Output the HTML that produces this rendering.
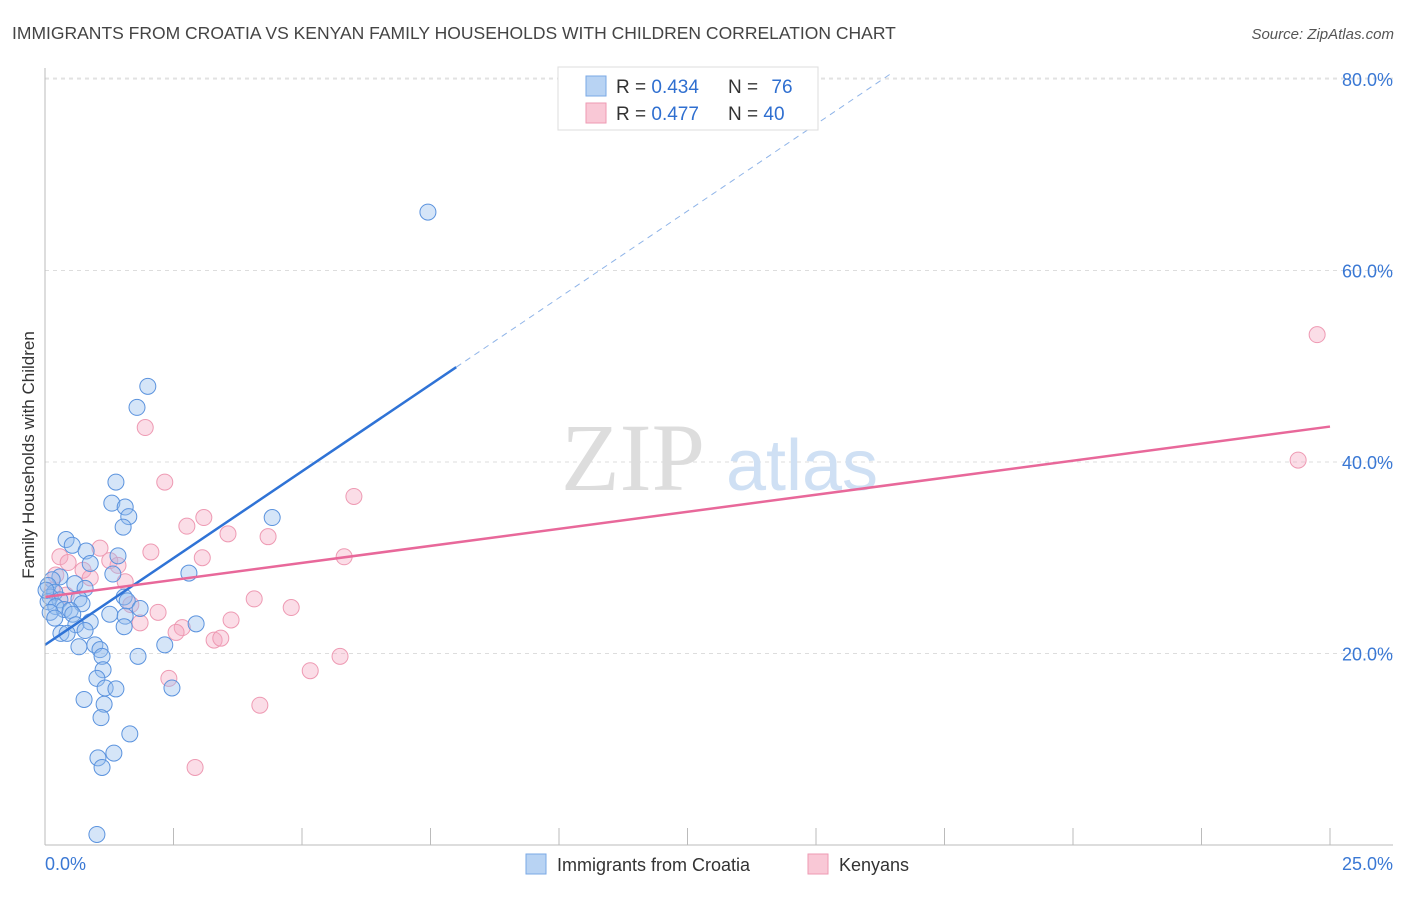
<!DOCTYPE html>
<html><head><meta charset="utf-8"><style>
body{margin:0;background:#fff;font-family:"Liberation Sans",sans-serif}
svg text{font-family:"Liberation Sans",sans-serif}
</style></head><body>
<svg id="chart" width="1406" height="892" xmlns="http://www.w3.org/2000/svg">
<text x="12" y="39" font-size="17.5" fill="#444">IMMIGRANTS FROM CROATIA VS KENYAN FAMILY HOUSEHOLDS WITH CHILDREN CORRELATION CHART</text>
<text x="1394" y="39" font-size="15" fill="#555" font-style="italic" text-anchor="end">Source: ZipAtlas.com</text>
<g id="grid"></g>
<g>
<text x="633" y="490" font-size="96" fill="#ddd" font-family="Liberation Serif" text-anchor="middle" style="font-family:'Liberation Serif',serif">ZIP</text>
<text x="802" y="490" font-size="72" fill="#cfe0f4" text-anchor="middle">atlas</text>
</g>
<g id="points"></g>
<g id="lines"></g>
<g id="axes"></g>
<text transform="translate(34,455) rotate(-90)" font-size="17" fill="#333" text-anchor="middle">Family Households with Children</text>
<g>
<rect x="558" y="67" width="260" height="63" fill="#fff" stroke="#ddd"/>
<rect x="586" y="76" width="20" height="20" fill="#b8d3f3" stroke="#7aa8e6"/>
<rect x="586" y="103" width="20" height="20" fill="#f9c8d6" stroke="#ee9ab3"/>
<text x="616" y="93" font-size="19" fill="#333">R = <tspan fill="#2f6fd0">0.434</tspan></text>
<text x="728" y="93" font-size="19" fill="#333">N = <tspan fill="#2f6fd0" dx="8">76</tspan></text>
<text x="616" y="120" font-size="19" fill="#333">R = <tspan fill="#2f6fd0">0.477</tspan></text>
<text x="728" y="120" font-size="19" fill="#333">N = <tspan fill="#2f6fd0">40</tspan></text>
</g>
<g>
<rect x="526" y="854" width="20" height="20" fill="#b8d3f3" stroke="#7aa8e6"/>
<text x="557" y="871" font-size="18" fill="#333">Immigrants from Croatia</text>
<rect x="808" y="854" width="20" height="20" fill="#f9c8d6" stroke="#ee9ab3"/>
<text x="839" y="871" font-size="18" fill="#333">Kenyans</text>
</g>
</svg>
<script>
const yTicks=[20,40,60,80];
const yTickLabels=["20.0%","40.0%","60.0%","80.0%"];
const xTickLabels=["0.0%","25.0%"];
const croatiaX=[7.45,2.0,1.79,1.38,1.30,1.56,1.63,1.52,4.42,0.41,0.53,0.80,1.42,0.88,1.32,2.80,0.29,0.14,0.58,0.06,0.78,0.19,0.10,0.29,0.66,1.54,0.06,0.72,1.60,1.85,0.21,0.37,0.49,1.26,0.54,0.88,0.60,1.56,2.94,0.78,0.31,0.43,1.54,0.97,0.66,1.07,2.33,1.81,1.11,1.13,1.01,1.17,1.38,2.47,0.76,1.15,1.09,1.65,1.03,1.34,1.11,1.01,0.10,0.02,0.19];
const croatiaY=[66.1,47.9,45.7,37.9,35.7,35.3,34.3,33.2,34.2,31.9,31.3,30.7,30.2,29.4,28.3,28.4,28.0,27.7,27.3,27.1,26.8,26.4,25.9,25.6,25.7,25.9,25.4,25.2,25.5,24.7,24.9,24.6,24.5,24.1,24.1,23.3,23.0,23.9,23.1,22.4,22.1,22.1,22.8,20.9,20.7,20.4,20.9,19.7,19.7,18.3,17.4,16.4,16.3,16.4,15.2,14.7,13.3,11.6,9.1,9.6,8.1,1.1,24.3,26.6,23.7];
const kenyanX=[24.75,24.38,1.95,2.33,6.01,2.76,3.09,3.56,4.34,2.06,3.06,5.82,1.07,0.29,0.45,1.26,1.42,0.74,0.21,0.88,1.56,4.07,1.67,2.20,4.79,3.62,1.85,2.67,2.55,3.29,3.42,5.74,5.16,2.41,4.18,2.92,0.14,0.41];
const kenyanY=[53.3,40.2,43.6,37.9,36.4,33.3,34.2,32.5,32.2,30.6,30.0,30.1,31.0,30.1,29.5,29.7,29.2,28.7,28.2,27.9,27.5,25.7,25.1,24.3,24.8,23.5,23.2,22.7,22.2,21.4,21.6,19.7,18.2,17.4,14.6,8.1,26.6,26.1];
const croatiaTrend=[20.9,49.9]; // y at x=0 and x=8
const kenyanTrend=[25.9,43.7];  // y at x=0 and x=25
const NS="http://www.w3.org/2000/svg";
const X=v=>45+v*51.4, Y=v=>845-v*9.575;
function mk(t,a,p){const e=document.createElementNS(NS,t);for(const k in a)e.setAttribute(k,a[k]);p.appendChild(e);return e;}
const grid=document.getElementById('grid'),axes=document.getElementById('axes'),pts=document.getElementById('points'),lines=document.getElementById('lines');
yTicks.forEach((t,i)=>{
 const g=mk('line',{x1:45,x2:1393,y1:Y(t),y2:Y(t),stroke:'#ddd','stroke-dasharray':'4,4'},grid);
 
 
 const l=mk('text',{x:1393,y:Y(t)+7,'font-size':18,fill:'#3a78d4','text-anchor':'end'},axes);
 l.textContent=yTickLabels[i];
 
 
});
mk('line',{x1:45,x2:1393,y1:78,y2:78,stroke:'#e6e6e6','stroke-dasharray':'4,4'},grid);
mk('line',{x1:45,x2:45,y1:68,y2:845,stroke:'#bbb'},axes);
mk('line',{x1:45,x2:1393,y1:845,y2:845,stroke:'#bbb'},axes);
for(let i=0;i<=10;i++){const t=mk('line',{x1:X(i*2.5),x2:X(i*2.5),y1:828,y2:845,stroke:'#bbb'},axes);
 
 }
const xl0=mk('text',{x:45,y:870,'font-size':18,fill:'#3a78d4'},axes);xl0.textContent=xTickLabels[0];


const xl1=mk('text',{x:1393,y:870,'font-size':18,fill:'#3a78d4','text-anchor':'end'},axes);xl1.textContent=xTickLabels[1];


kenyanX.forEach((x,i)=>{const c=mk('circle',{cx:X(x),cy:Y(kenyanY[i]),r:8,fill:'rgba(246,170,196,0.4)',stroke:'#ee9ab3','stroke-width':1},pts);
 
 });
croatiaX.forEach((x,i)=>{const c=mk('circle',{cx:X(x),cy:Y(croatiaY[i]),r:8,fill:'rgba(150,190,238,0.4)',stroke:'#5b93de','stroke-width':1},pts);
 
 });
const slopeC=(croatiaTrend[1]-croatiaTrend[0])/8;
const b1=mk('line',{x1:X(0),y1:Y(croatiaTrend[0]),x2:X(8),y2:Y(croatiaTrend[1]),stroke:'#2f73d6','stroke-width':2.5},lines);


const xe=(80.5-croatiaTrend[0])/slopeC;
const b2=mk('line',{x1:X(8),y1:Y(croatiaTrend[1]),x2:X(xe),y2:Y(80.5),stroke:'#8fb4e8','stroke-width':1,'stroke-dasharray':'6,5'},lines);


const p1=mk('line',{x1:X(0),y1:Y(kenyanTrend[0]),x2:X(25),y2:Y(kenyanTrend[1]),stroke:'#e8689a','stroke-width':2.5},lines);


</script>
</body></html>
